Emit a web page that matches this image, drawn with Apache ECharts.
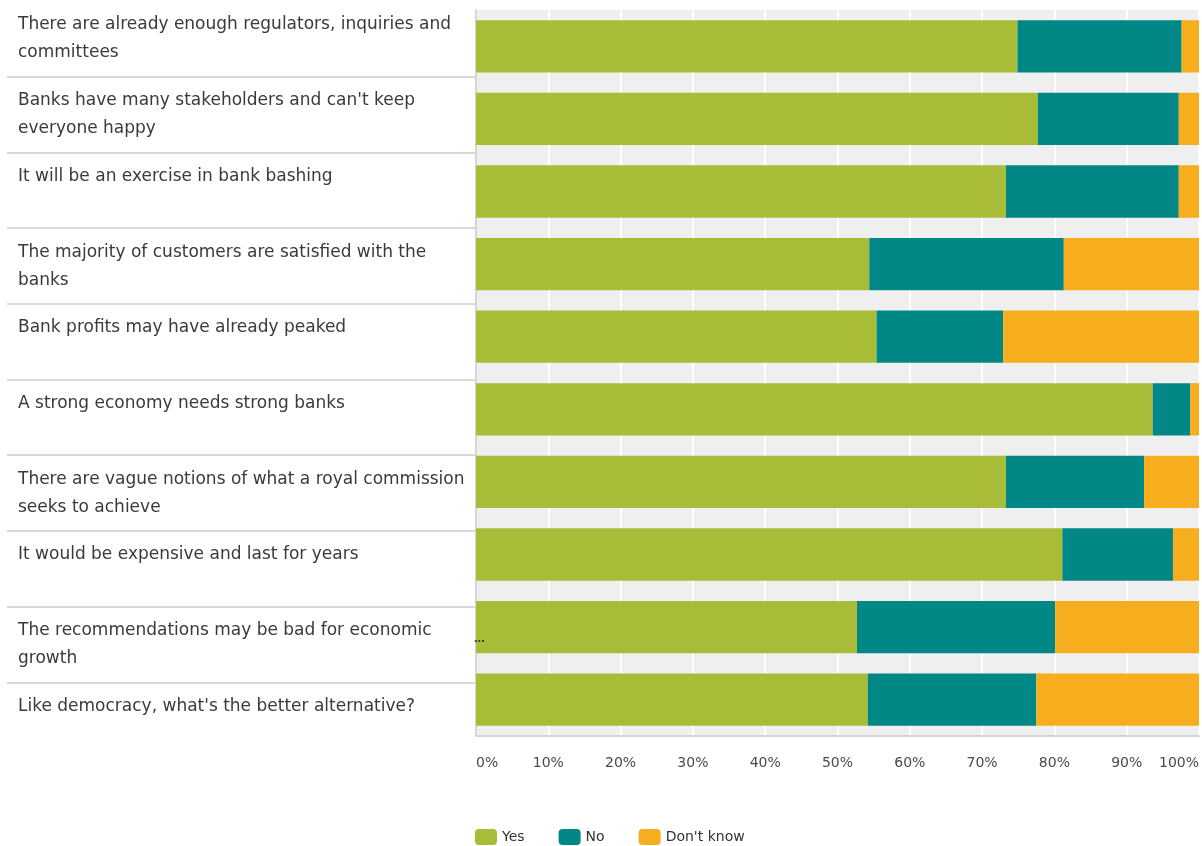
<!DOCTYPE html>
<html>
<head>
<meta charset="utf-8">
<script src="https://cdn.jsdelivr.net/npm/echarts@6/dist/echarts.min.js"></script>
<style>
  html, body { margin: 0; padding: 0; background: #fff; }
  #chart { width: 1202px; height: 846px; }
</style>
</head>
<body>
<div id="chart"></div>
<script>
// statements, top to bottom
var statements = [
  'There are already enough regulators, inquiries and committees',
  "Banks have many stakeholders and can't keep everyone happy",
  'It will be an exercise in bank bashing',
  'The majority of customers are satisfied with the banks',
  'Bank profits may have already peaked',
  'A strong economy needs strong banks',
  'There are vague notions of what a royal commission seeks to achieve',
  'It would be expensive and last for years',
  'The recommendations may be bad for economic growth',
  "Like democracy, what's the better alternative?"
];
var yesValues = [74.9, 77.7, 73.3, 54.4, 55.4, 93.6, 73.3, 81.1, 52.7, 54.2];
var noValues  = [22.7, 19.5, 23.9, 26.9, 17.5, 5.2, 19.1, 15.3, 27.4, 23.3];
var dkValues  = [2.4, 2.8, 2.8, 18.7, 27.1, 1.2, 7.6, 3.6, 19.9, 22.5];
var seriesNames = ['Yes', 'No', "Don't know"];
var colors = ['#a9bc38', '#008786', '#f6ae1e'];

var chart = echarts.init(document.getElementById('chart'));

var option = {
  backgroundColor: '#fff',
  animation: false,
  textStyle: { fontFamily: 'DejaVu Sans, sans-serif' },
  legend: {
    left: 470,
    top: 824,
    itemWidth: 22,
    itemHeight: 16,
    itemGap: 34,
    icon: 'roundRect',
    textStyle: { fontSize: 14, color: '#333' },
    data: seriesNames
  },
  grid: [
    {
      left: 476, top: 10, width: 723, height: 726,
      show: true, backgroundColor: '#efefef', borderWidth: 0
    },
    {
      // left column holding the statement text
      left: 7, top: 1, width: 469, height: 757
    }
  ],
  xAxis: [
    {
      type: 'value',
      gridIndex: 0,
      min: 0, max: 100, interval: 10,
      axisLine: { show: true, lineStyle: { color: '#d6d6d6', width: 2 } },
      axisTick: { show: false },
      axisLabel: {
        formatter: '{value}%',
        color: '#4a4a4a',
        fontSize: 14,
        margin: 20,
        alignMinLabel: 'left',
        alignMaxLabel: 'right'
      },
      splitLine: { show: true, lineStyle: { color: '#ffffff', width: 2 } }
    },
    { type: 'value', gridIndex: 1, show: false }
  ],
  yAxis: [
    {
      type: 'category',
      gridIndex: 0,
      inverse: true,
      data: statements,
      axisLine: { show: true, lineStyle: { color: '#d6d6d6', width: 2 } },
      axisTick: { show: false },
      axisLabel: { show: false }
    },
    {
      type: 'category',
      gridIndex: 1,
      inverse: true,
      boundaryGap: false,
      data: statements.concat(['']),
      axisLine: { show: false },
      axisTick: { show: false },
      axisLabel: {
        inside: true,
        margin: 11,
        verticalAlign: 'top',
        align: 'left',
        lineHeight: 28,
        padding: [10, 0, 0, 0],
        fontSize: 17,
        color: '#3a3a3a',
        width: 456,
        overflow: 'break'
      },
      splitLine: {
        show: true,
        showMinLine: false,
        showMaxLine: false,
        lineStyle: { color: '#d9d9d9', width: 2 }
      }
    }
  ],
  graphic: [
    {
      type: 'text',
      left: 474,
      top: 632,
      z: 100,
      style: { text: '...', fontSize: 13, fill: '#333', fontWeight: 'bold' }
    }
  ],
  series: [yesValues, noValues, dkValues].map(function (vals, i) {
    return {
      name: seriesNames[i],
      type: 'bar',
      stack: 'total',
      xAxisIndex: 0,
      yAxisIndex: 0,
      barCategoryGap: '28%',
      itemStyle: { color: colors[i] },
      data: vals
    };
  })
};

chart.setOption(option);
</script>
</body>
</html>
